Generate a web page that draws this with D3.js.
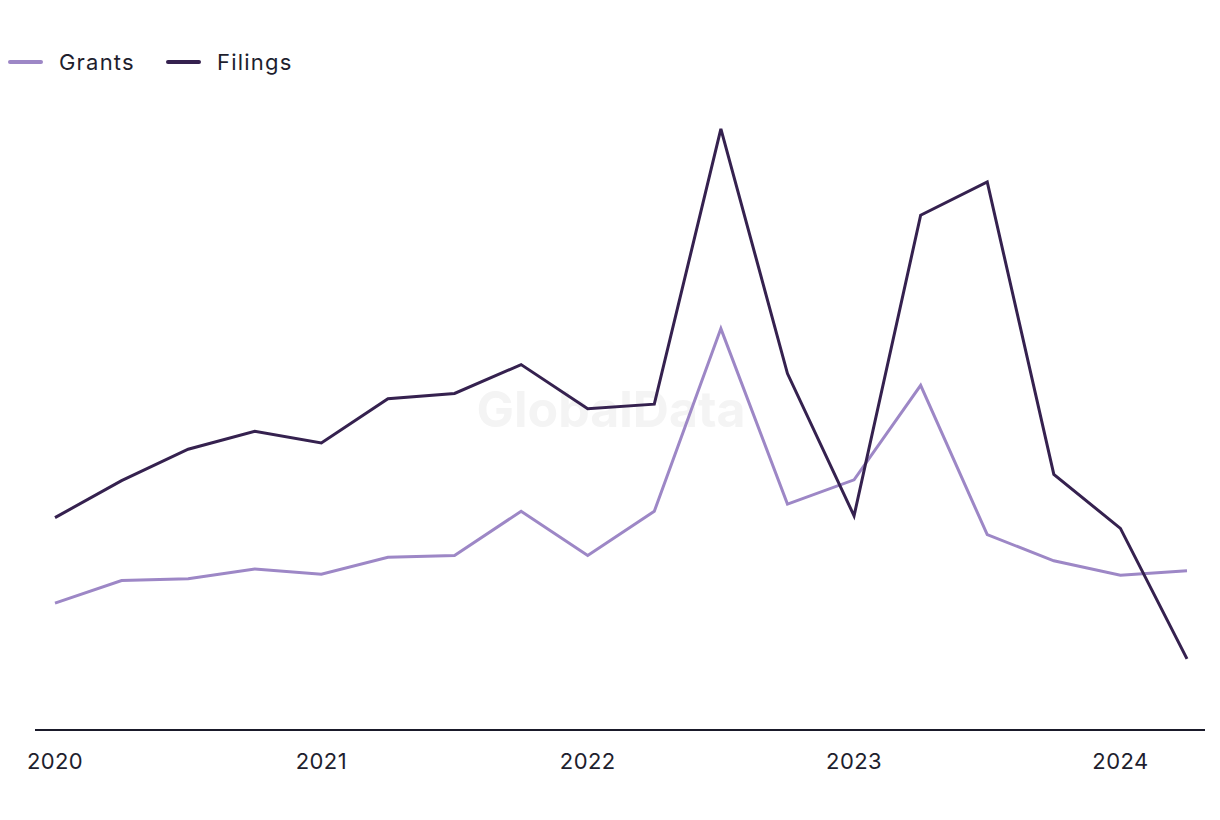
<!DOCTYPE html>
<html>
<head>
<meta charset="utf-8">
<script src="https://cdn.jsdelivr.net/npm/d3@7"></script>
<style>
  html, body { margin: 0; padding: 0; background: #ffffff; }
  svg { display: block; font-family: Inter, "Noto Sans", sans-serif; }
</style>
</head>
<body>
<svg id="chart" width="1220" height="820"></svg>
<script>
// Quarterly periods, 2020 Q1 – 2024 Q2
const quarters = ["2020Q1","2020Q2","2020Q3","2020Q4","2021Q1","2021Q2","2021Q3","2021Q4",
                  "2022Q1","2022Q2","2022Q3","2022Q4","2023Q1","2023Q2","2023Q3","2023Q4",
                  "2024Q1","2024Q2"];
const filings = [23.6, 27.7, 31.2, 33.2, 31.9, 36.8, 37.4, 40.6, 35.7, 36.2, 66.8, 39.6,
                 23.8, 57.2, 60.9, 28.4, 22.4, 7.9];
const grants  = [14.1, 16.6, 16.8, 17.9, 17.3, 19.2, 19.4, 24.3, 19.4, 24.3, 44.6, 25.1,
                 27.8, 38.3, 21.7, 18.8, 17.2, 17.7];
const tickLabels = ["2020","2021","2022","2023","2024"];
const seriesNames = ["Grants","Filings"];
const seriesColors = ["#9d87c6","#35214f"];

const svg = d3.select("#chart");

const x = d3.scalePoint().domain(quarters).range([55, 1187]);
const y = d3.scaleLinear().domain([0, 70]).range([730, 100]);

// watermark
svg.append("text")
  .attr("x", 611).attr("y", 427)
  .attr("text-anchor", "middle")
  .attr("font-size", 50).attr("font-weight", 700)
  .attr("fill", "#f4f4f4")
  .text("GlobalData");

// x axis
const axisG = svg.append("g").attr("transform", "translate(0,730)");
axisG.append("line").attr("x1", 35).attr("x2", 1205).attr("y1", 0).attr("y2", 0)
  .attr("stroke", "#1a1a2a").attr("stroke-width", 2);
const tickQ = tickLabels.map(t => t + "Q1");
axisG.selectAll("text.tick").data(tickLabels).enter().append("text")
  .attr("class", "tick")
  .attr("x", (d, i) => x(tickQ[i]))
  .attr("y", 39)
  .attr("text-anchor", "middle")
  .attr("font-size", 22)
  .attr("letter-spacing", "0.4px")
  .attr("fill", "#1e1e2e")
  .text(d => d);

// lines
const line = d3.line().x((d, i) => x(quarters[i])).y(d => y(d)).curve(d3.curveLinear);
[grants, filings].forEach((s, k) => {
  svg.append("path").datum(s)
    .attr("d", line)
    .attr("fill", "none")
    .attr("stroke", seriesColors[k])
    .attr("stroke-width", 3)
    .attr("stroke-linejoin", "miter");
});

// legend
const legX = [10, 168];
seriesNames.forEach((n, k) => {
  const g = svg.append("g").attr("transform", `translate(${legX[k]},62)`);
  g.append("line").attr("x1", 0).attr("x2", 31).attr("y1", 0).attr("y2", 0)
    .attr("stroke", seriesColors[k]).attr("stroke-width", 4).attr("stroke-linecap", "round");
  g.append("text").attr("x", 49).attr("y", 8)
    .attr("font-size", 22).attr("letter-spacing", "1.2px")
    .attr("fill", "#1e1e2e").text(n);
});
</script>
</body>
</html>
